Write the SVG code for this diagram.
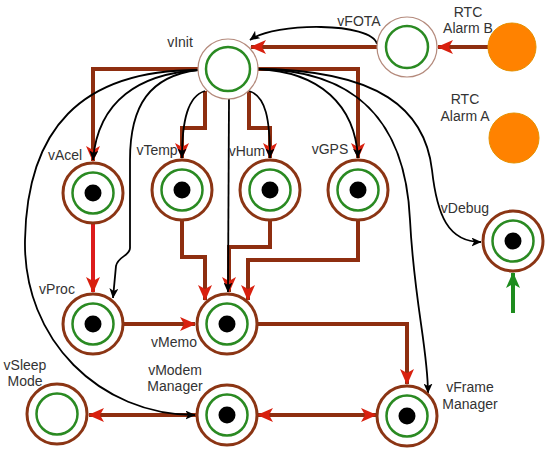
<svg xmlns="http://www.w3.org/2000/svg" width="550" height="453" viewBox="0 0 550 453">
<defs>
<style>
.outer{fill:#fff;stroke:#8b3514;stroke-width:3}
.outerThin{fill:#fff;stroke:#b48a7c;stroke-width:1.2}
.inner{fill:none;stroke:#2a8a22;stroke-width:2.5}
.dot{fill:#000}
.rtc{fill:#ff8200;stroke:#e59000;stroke-width:1}
.lbl{font-family:"Liberation Sans",Arial,sans-serif;font-size:14px;fill:#333;text-anchor:middle}
.br{fill:none;stroke:#8e2e10;stroke-width:4;marker-end:url(#ar)}
.rd{fill:none;stroke:#dc1c1c;stroke-width:4;marker-end:url(#ar)}
.bk{fill:none;stroke:#000;stroke-width:1.8;marker-end:url(#ab)}
.gr{fill:none;stroke:#1e8c1e;stroke-width:4;marker-end:url(#ag)}
</style>
<marker id="ar" viewBox="0 0 16 14" refX="15" refY="7" markerWidth="16" markerHeight="14" markerUnits="userSpaceOnUse" orient="auto-start-reverse"><path d="M0,0 L16,7 L0,14 L4,7 z" fill="#d8200e"/></marker>
<marker id="ab" viewBox="0 0 10 9" refX="9.5" refY="4.5" markerWidth="10" markerHeight="9" markerUnits="userSpaceOnUse" orient="auto"><path d="M0,0 L10,4.5 L0,9 L2.5,4.5 z" fill="#000"/></marker>
<marker id="ag" viewBox="0 0 16 14" refX="15" refY="7" markerWidth="16" markerHeight="14" markerUnits="userSpaceOnUse" orient="auto"><path d="M0,0 L16,7 L0,14 L4,7 z" fill="#1e8c1e"/></marker>
</defs>

<g id="connectors">
<path class="br" d="M488 47 L438 47"/>
<path class="br" d="M377 47 L251 47"/>
<path class="br" d="M198 69 L93 69 L93 161"/>
<path class="br" d="M258 69 L358 69 L358 158"/>
<path class="br" d="M205 91 L205 128 L182 128 L182 158"/>
<path class="br" d="M249 91 L249 128 L270 128 L270 158"/>
<path class="rd" d="M93 224 L93 292"/>
<path class="br" d="M182 221 L182 257 L205 257 L205 300"/>
<path class="br" d="M270 221 L270 247 L229 247 L229 292"/>
<path class="br" d="M358 221 L358 260 L248 260 L248 300"/>
<path class="br" d="M124 324 L195 324"/>
<path class="br" d="M258 324 L407 324 L407 384"/>
<path class="br" d="M196 415 L89 415"/>
<path class="br" d="M258 415 L376 415" style="marker-start:url(#ar)"/>
<path class="gr" d="M513 313 L513 273"/>

<path class="bk" d="M377 44 C372 22 275 22 250 40"/>
<path class="bk" d="M198 70 C140 74 98 100 93 160"/>
<path class="bk" d="M198 70 C150 76 130 105 130 160 L130 248 C130 256 118 256 116 266 L113 298"/>
<path class="bk" d="M198 70 C80 70 27 130 25 240 C23 340 100 415 195 415"/>
<path class="bk" d="M205 91 C188 96 182 120 182 158"/>
<path class="bk" d="M249 91 C266 96 270 120 270 158"/>
<path class="bk" d="M229 99 L228 292"/>
<path class="bk" d="M258 69 C320 72 355 105 358 158"/>
<path class="bk" d="M258 69 C345 70 405 110 410 220 C414 300 428 350 428 393"/>
<path class="bk" d="M258 69 C380 70 425 110 432 170 C437 215 448 242 481 242"/>
</g>

<g id="vInit">
<circle class="outerThin" cx="228" cy="69" r="30"/>
<circle class="inner" cx="228" cy="69" r="22"/>
<text class="lbl" x="180" y="47">vInit</text>
</g>
<g id="vFOTA">
<circle class="outerThin" cx="407" cy="47" r="30"/>
<circle class="inner" cx="407" cy="47" r="21"/>
<text class="lbl" x="359" y="26">vFOTA</text>
</g>
<g id="rtcB">
<circle class="rtc" cx="512" cy="47" r="24"/>
<text class="lbl" x="468" y="17">RTC</text>
<text class="lbl" x="468" y="33">Alarm B</text>
</g>
<g id="rtcA">
<circle class="rtc" cx="514" cy="138" r="25"/>
<text class="lbl" x="465" y="104">RTC</text>
<text class="lbl" x="465" y="121">Alarm A</text>
</g>
<g id="vAcel">
<circle class="outer" cx="93" cy="193" r="30"/>
<circle class="inner" cx="93" cy="193" r="20.5"/>
<circle class="dot" cx="93" cy="193" r="8.5"/>
<text class="lbl" x="65" y="160">vAcel</text>
</g>
<g id="vTemp">
<circle class="outer" cx="182" cy="190" r="30"/>
<circle class="inner" cx="182" cy="190" r="20.5"/>
<circle class="dot" cx="182" cy="190" r="8.5"/>
<text class="lbl" x="157" y="155">vTemp</text>
</g>
<g id="vHum">
<circle class="outer" cx="270" cy="190" r="30"/>
<circle class="inner" cx="270" cy="190" r="20.5"/>
<circle class="dot" cx="270" cy="190" r="8.5"/>
<text class="lbl" x="247" y="156">vHum</text>
</g>
<g id="vGPS">
<circle class="outer" cx="358" cy="190" r="30"/>
<circle class="inner" cx="358" cy="190" r="20.5"/>
<circle class="dot" cx="358" cy="190" r="8.5"/>
<text class="lbl" x="330" y="154">vGPS</text>
</g>
<g id="vDebug">
<circle class="outer" cx="513" cy="241" r="30"/>
<circle class="inner" cx="513" cy="241" r="20.5"/>
<circle class="dot" cx="513" cy="241" r="8.5"/>
<text class="lbl" x="465" y="213">vDebug</text>
</g>
<g id="vProc">
<circle class="outer" cx="93" cy="324" r="30"/>
<circle class="inner" cx="93" cy="324" r="20.5"/>
<circle class="dot" cx="93" cy="324" r="8.5"/>
<text class="lbl" x="57" y="294">vProc</text>
</g>
<g id="vMemo">
<circle class="outer" cx="227" cy="324" r="30"/>
<circle class="inner" cx="227" cy="324" r="20.5"/>
<circle class="dot" cx="227" cy="324" r="8.5"/>
<text class="lbl" x="174" y="347">vMemo</text>
</g>
<g id="vSleepMode">
<circle class="outer" cx="57" cy="414" r="30"/>
<circle class="inner" cx="57" cy="414" r="20.5"/>
<text class="lbl" x="25" y="370">vSleep</text>
<text class="lbl" x="25" y="386">Mode</text>
</g>
<g id="vModemManager">
<circle class="outer" cx="227" cy="415" r="30"/>
<circle class="inner" cx="227" cy="415" r="20.5"/>
<circle class="dot" cx="227" cy="415" r="8.5"/>
<text class="lbl" x="175" y="375">vModem</text>
<text class="lbl" x="175" y="391">Manager</text>
</g>
<g id="vFrameManager">
<circle class="outer" cx="407" cy="416" r="30"/>
<circle class="inner" cx="407" cy="416" r="20.5"/>
<circle class="dot" cx="407" cy="416" r="8.5"/>
<text class="lbl" x="470" y="392">vFrame</text>
<text class="lbl" x="470" y="409">Manager</text>
</g>
</svg>
